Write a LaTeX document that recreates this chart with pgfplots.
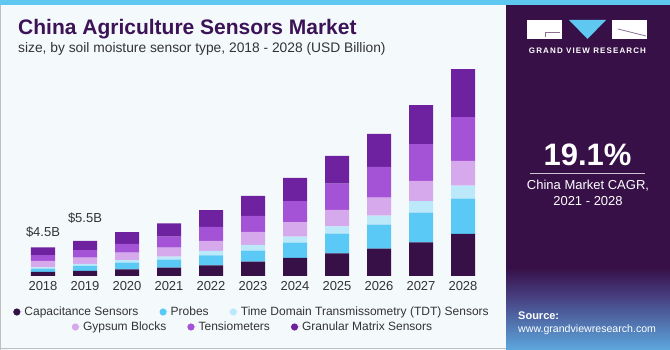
\documentclass[border=0pt]{standalone}
\usepackage{pgfplots}
\pgfplotsset{compat=1.18}
\usepackage{fontspec}
\setmainfont{Liberation Sans}
\usetikzlibrary{shadings}
\definecolor{cCap}{HTML}{371048}
\definecolor{cProbe}{HTML}{5BC9F5}
\definecolor{cTDT}{HTML}{BCE9FA}
\definecolor{cGyp}{HTML}{D6A8EC}
\definecolor{cTens}{HTML}{A452D6}
\definecolor{cGran}{HTML}{6E22A0}
\definecolor{panel}{HTML}{371048}
\definecolor{bg}{HTML}{F4F9FC}
\definecolor{topblue}{HTML}{5EC8F0}
\definecolor{titlec}{HTML}{3B1356}
\definecolor{txt}{HTML}{333333}
\begin{document}
\begin{tikzpicture}[x=1pt,y=1pt]
% backgrounds
\fill[bg] (0,0) rectangle (670,350);
\draw[gray!50, line width=1pt] (0.5,0) -- (0.5,345);
\draw[gray!50, line width=1pt] (0,1.5) -- (506,1.5);
\fill[panel] (506,0) rectangle (670,345);
\shade[top color=panel, bottom color={rgb,255:red,70;green,60;blue,125}] (506,55) rectangle (670,82);
\shade[top color={rgb,255:red,70;green,60;blue,125}, bottom color={rgb,255:red,92;green,168;blue,222}] (506,0) rectangle (670,55);
\fill[topblue] (0,345) rectangle (670,350);
% title
\node[anchor=base west, inner sep=0pt, font=\bfseries\fontsize{21}{23}\selectfont, text=titlec] at (18,315) {China Agriculture Sensors Market};
\node[anchor=base west, inner sep=0pt, font=\fontsize{13.8}{15}\selectfont, text=txt] at (18,297) {size, by soil moisture sensor type, 2018 - 2028 (USD Billion)};
% logo
\fill[white] (527,311) rectangle (562,330);
\fill[white] (612,311) rectangle (647,330);
\draw[panel!60, line width=0.8pt] (545,317.5) -- (560,317.5);
\draw[panel!60, line width=0.8pt] (545.5,317.5) -- (545.5,313);
\draw[panel!60, line width=0.8pt] (618,321) -- (646,314);
\fill[topblue] (569,330) -- (606,330) -- (587.5,311) -- cycle;
\node[anchor=center, inner sep=0pt, font=\bfseries\fontsize{8}{9}\selectfont\addfontfeature{LetterSpace=14}, text=white] at (587.5,299.5) {GRAND VIEW RESEARCH};
% CAGR
\node[anchor=center, inner sep=0pt, font=\bfseries\fontsize{31}{33}\selectfont, text=white] at (587.5,195) {19.1\%};
\draw[white!75!panel, line width=0.8pt] (530,176.7) -- (645,176.7);
\node[anchor=center, inner sep=0pt, font=\fontsize{13}{15}\selectfont, text=white] at (588,164.3) {China Market CAGR,};
\node[anchor=center, inner sep=0pt, font=\fontsize{13}{15}\selectfont, text=white] at (588,149) {2021 - 2028};
\node[anchor=west, inner sep=0pt, font=\bfseries\fontsize{11}{13}\selectfont, text=white] at (518,34) {Source:};
\node[anchor=west, inner sep=0pt, font=\fontsize{10.6}{13}\selectfont, text=white] at (518,20) {www.grandviewresearch.com};
% chart
\begin{axis}[
  at={(1pt,74pt)}, anchor=south west,
  scale only axis, width=504pt, height=220pt,
  xmin=2017, xmax=2029, ymin=0, ymax=34.5,
  ybar stacked, bar width=24pt,
  axis line style={draw=none}, tick style={draw=none},
  ytick=\empty,
  xtick={2018,2019,2020,2021,2022,2023,2024,2025,2026,2027,2028},
  xticklabels={2018,2019,2020,2021,2022,2023,2024,2025,2026,2027,2028},
  xticklabel style={font=\fontsize{13}{15}\selectfont, text=txt, yshift=-2pt},
  clip=false,
  legend image code/.code={\fill[#1] (3.6pt,0pt) circle (3.6pt); \path (0pt,0pt) -- (9.2pt,0pt);},
  legend style={draw=none, fill=none, at={(0.498,-0.1636)}, anchor=center,
    legend columns=3, font=\fontsize{12}{14}\selectfont, text=txt,
    /tikz/every even column/.append style={column sep=19pt},
    legend cell align=left},
]
\addplot[fill=cCap, draw=none] coordinates {(2018,0.63) (2019,0.79) (2020,1.05) (2021,1.30) (2022,1.68) (2023,2.25) (2024,2.83) (2025,3.56) (2026,4.29) (2027,5.29) (2028,6.59)};
\addplot[fill=cProbe, draw=none] coordinates {(2018,0.52) (2019,0.79) (2020,1.04) (2021,1.26) (2022,1.57) (2023,1.73) (2024,2.40) (2025,3.08) (2026,3.77) (2027,4.65) (2028,5.54)};
\addplot[fill=cTDT, draw=none] coordinates {(2018,0.20) (2019,0.31) (2020,0.38) (2021,0.47) (2022,0.68) (2023,0.89) (2024,0.94) (2025,1.16) (2026,1.41) (2027,1.79) (2028,2.04)};
\addplot[fill=cGyp, draw=none, forget plot] coordinates {(2018,1.04) (2019,0.99) (2020,1.19) (2021,1.41) (2022,1.57) (2023,2.04) (2024,2.26) (2025,2.56) (2026,2.83) (2027,3.19) (2028,3.88)};
\addplot[fill=cTens, draw=none, forget plot] coordinates {(2018,0.89) (2019,1.16) (2020,1.37) (2021,1.73) (2022,2.20) (2023,2.51) (2024,3.30) (2025,4.13) (2026,4.82) (2027,5.76) (2028,6.86)};
\addplot[fill=cGran, draw=none, forget plot] coordinates {(2018,1.21) (2019,1.46) (2020,1.84) (2021,2.10) (2022,2.62) (2023,3.14) (2024,3.66) (2025,4.35) (2026,5.18) (2027,6.12) (2028,7.54)};
\legend{Capacitance Sensors, Probes, Time Domain Transmissometry (TDT) Sensors}
\node[font=\fontsize{13}{15}\selectfont, text=txt] at (axis cs:2018,6.9) {\$4.5B};
\node[font=\fontsize{13}{15}\selectfont, text=txt] at (axis cs:2019,9.0) {\$5.5B};
\end{axis}
\begin{axis}[
  at={(1pt,74pt)}, anchor=south west,
  scale only axis, width=504pt, height=220pt,
  xmin=2017, xmax=2029, ymin=0, ymax=34.5,
  hide axis,
  legend image code/.code={\fill[#1] (3.6pt,0pt) circle (3.6pt); \path (0pt,0pt) -- (9.2pt,0pt);},
  legend style={draw=none, fill=none, at={(0.500,-0.2318)}, anchor=center,
    legend columns=3, font=\fontsize{12}{14}\selectfont, text=txt,
    /tikz/every even column/.append style={column sep=19pt},
    legend cell align=left},
]
\addlegendimage{fill=cGyp, draw=none}
\addlegendimage{fill=cTens, draw=none}
\addlegendimage{fill=cGran, draw=none}
\legend{Gypsum Blocks, Tensiometers, Granular Matrix Sensors}
\end{axis}
\pgfresetboundingbox
\useasboundingbox (0,0) rectangle (670,350);
\end{tikzpicture}
\end{document}
